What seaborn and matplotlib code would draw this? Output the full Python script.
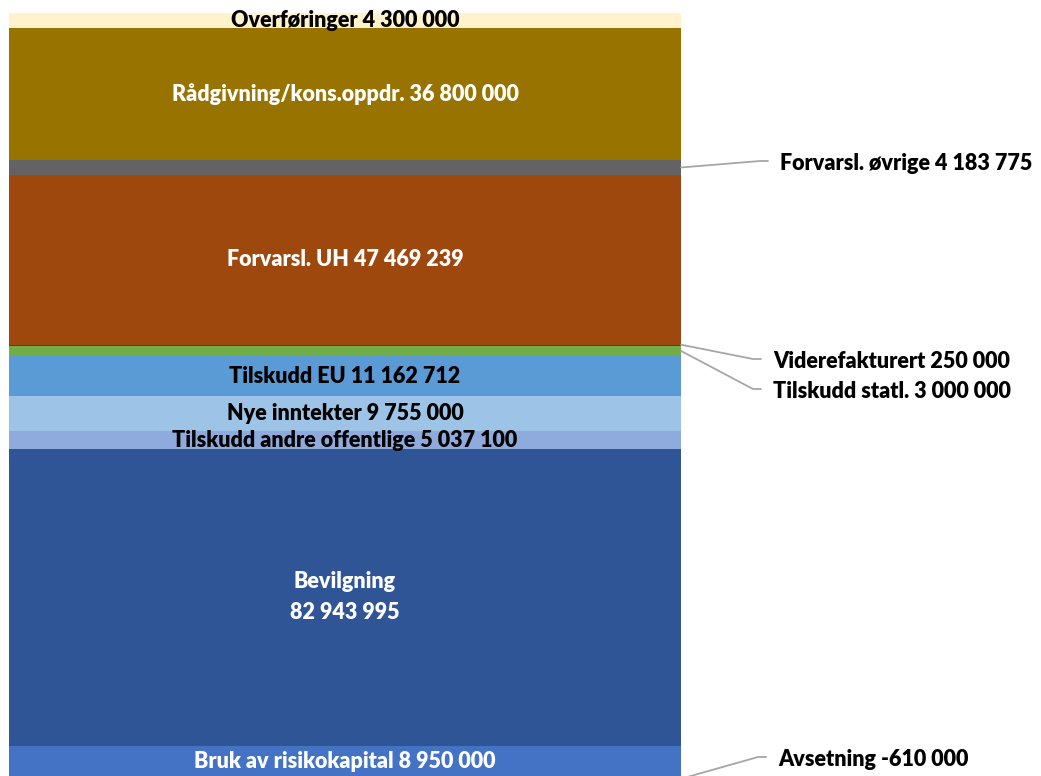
import matplotlib
matplotlib.use("Agg")
import matplotlib.pyplot as plt
import seaborn as sns
import pandas as pd

# Budget items, stacked from the bottom up
posts = ["Avsetning", "Bruk av risikokapital", "Bevilgning", "Tilskudd andre offentlige",
         "Nye inntekter", "Tilskudd EU", "Tilskudd statl.", "Viderefakturert",
         "Forvarsl. UH", "Forvarsl. øvrige", "Rådgivning/kons.oppdr.", "Overføringer"]
amounts = [-610000, 8950000, 82943995, 5037100, 9755000, 11162712, 3000000, 250000,
           47469239, 4183775, 36800000, 4300000]
colors = ["#264478", "#4472C4", "#2F5597", "#8FAADC", "#9DC3E6", "#5B9BD5", "#70AD47",
          "#264478", "#9E480E", "#636363", "#997300", "#FFF2CC"]
# where the label goes, and its colour when inside
placement = ["out", "in", "in", "in", "in", "in", "out", "out", "in", "out", "in", "in"]
text_colors = ["black", "white", "white", "black", "black", "black", "black", "black",
               "white", "black", "white", "black"]
# outside label positions in image pixels (x of text start, y of text centre)
out_labels = {"Avsetning": (778, 760), "Tilskudd statl.": (773, 392),
              "Viderefakturert": (773, 362), "Forvarsl. øvrige": (780, 164)}

df = pd.DataFrame({"post": posts, "amount": amounts, "color": colors})
pos_cum = 0
bottoms = []
for v in amounts:
    if v < 0:
        bottoms.append(0)
    else:
        bottoms.append(pos_cum)
        pos_cum += v
df["bottom"] = bottoms


def fmt(v):
    return f"{v:,}".replace(",", " ")


sns.set_theme(style="white")
plt.rcParams["font.family"] = ["Lato", "DejaVu Sans"]

W, H = 1041, 776
fig = plt.figure(figsize=(W / 100, H / 100), dpi=100)
ax = fig.add_axes([0, 0, 1, 1])

bar_w = 0.8
for _, row in df.iterrows():
    sns.barplot(x=[0], y=[row["amount"]], bottom=row["bottom"], color=row["color"],
                width=bar_w, saturation=1, linewidth=0, ax=ax, native_scale=True)

ax.set_xlim(-bar_w / 2 - 9 / 840, bar_w / 2 + (W - 681) / 840)
ax.set_ylim(0.47e6, 217.5e6)
ax.axis("off")

inv = ax.transData.inverted()


def px(x, y):
    return inv.transform((x, H - y))


bar_right = bar_w / 2
for _, row in df.iterrows():
    i = posts.index(row["post"])
    mid = row["bottom"] + row["amount"] / 2
    if row["post"] == "Bevilgning":
        label = f"{row['post']}\n{fmt(row['amount'])}"
    else:
        label = f"{row['post']} {fmt(row['amount'])}"
    if placement[i] == "in":
        ax.text(0, mid, label, ha="center", va="center", color=text_colors[i],
                fontsize=15.5, fontweight="heavy", linespacing=1.6)
    else:
        tx, ty = out_labels[row["post"]]
        lx, ly = px(tx, ty)
        # leader line: from bar edge to a short horizontal stub before the label
        k1 = px(tx - 20, ty - 3)
        k2 = px(tx - 12, ty - 3)
        if row["post"] == "Viderefakturert":
            anchor_y = row["bottom"] + row["amount"]
        else:
            anchor_y = mid
        ax.plot([bar_right, k1[0], k2[0]], [anchor_y, k1[1], k2[1]], color="#A6A6A6",
                linewidth=1.3, clip_on=False)
        ax.text(lx, ly, label, ha="left", va="center", color="black",
                fontsize=15.5, fontweight="heavy")

fig.savefig("out.png", dpi=100)
